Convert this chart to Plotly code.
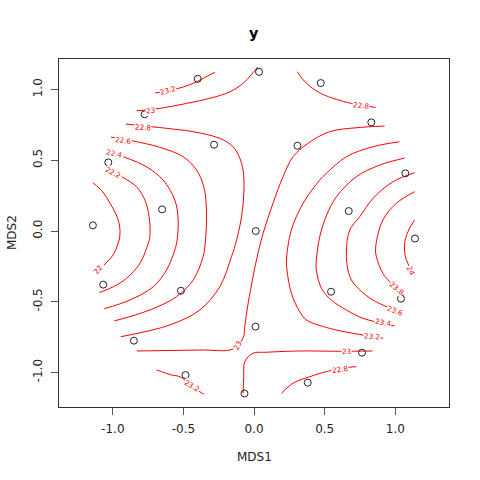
import plotly.graph_objects as go

# ---- site scores (NMDS) ----
site_mds1 = [0.035, -0.399, 0.472, -0.775, 0.830, -0.283, 0.307, -1.032, 1.071, -0.651,
             0.670, -1.141, 0.012, 1.139, -1.068, -0.518, 0.545, 1.040, 0.010, -0.851,
             0.764, -0.485, 0.380, -0.068]
site_mds2 = [1.125, 1.076, 1.046, 0.825, 0.768, 0.610, 0.603, 0.485, 0.408, 0.153,
             0.141, 0.040, 0.000, -0.053, -0.379, -0.422, -0.429, -0.478, -0.676, -0.775,
             -0.860, -1.018, -1.072, -1.149]

# ---- fitted surface contour lines (level: x, y) ----
c22_x = [-1.141, -1.070, -1.021, -0.978, -0.953, -0.950, -0.964, -0.999, -1.063]
c22_y = [0.341, 0.276, 0.198, 0.120, 0.042, -0.035, -0.092, -0.170, -0.240]

c222_x = [-0.938, -0.832, -0.773, -0.743, -0.738, -0.757, -0.808, -0.902, -0.997, -1.096]
c222_y = [0.384, 0.313, 0.219, 0.101, -0.040, -0.111, -0.228, -0.334, -0.394, -0.436]

c224_x = [-0.926, -0.761, -0.644, -0.561, -0.537, -0.545, -0.561, -0.620, -0.714, -0.879, -1.061]
c224_y = [0.525, 0.454, 0.360, 0.219, 0.078, -0.064, -0.134, -0.276, -0.394, -0.488, -0.549]

c226_x = [-1.013, -0.856, -0.667, -0.502, -0.407, -0.356, -0.337, -0.344, -0.361, -0.431, -0.549, -0.738, -0.990]
c226_y = [0.664, 0.636, 0.592, 0.525, 0.431, 0.313, 0.148, -0.064, -0.182, -0.346, -0.464, -0.558, -0.636]

c228_left_x = [-0.907, -0.620, -0.431, -0.243, -0.149, -0.096, -0.073, -0.082, -0.124, -0.160, -0.243, -0.384, -0.596, -0.943]
c228_left_y = [0.756, 0.726, 0.702, 0.655, 0.596, 0.502, 0.384, 0.148, -0.064, -0.182, -0.394, -0.558, -0.664, -0.747]

c228_top_x = [0.304, 0.371, 0.472, 0.583, 0.689, 0.861]
c228_top_y = [1.126, 1.044, 0.973, 0.931, 0.902, 0.874]

c228_bot_x = [0.194, 0.276, 0.394, 0.512, 0.677, 0.724]
c228_bot_y = [-1.147, -1.076, -1.030, -0.994, -0.963, -0.959]

c23_top_x = [-0.832, -0.667, -0.478, -0.313, -0.172, -0.078, -0.023, 0.026]
c23_top_y = [0.850, 0.867, 0.902, 0.938, 0.984, 1.044, 1.102, 1.159]

c23_mid_x = [0.924, 0.724, 0.535, 0.382, 0.276, 0.205, 0.134, 0.064, 0.017, -0.007, -0.042, -0.066, -0.078, -0.149, -0.384, -0.830]
c23_mid_y = [0.742, 0.730, 0.702, 0.620, 0.525, 0.384, 0.196, -0.016, -0.205, -0.323, -0.511, -0.676, -0.756, -0.834, -0.841, -0.848]

c23_bot_x = [-0.078, -0.073, -0.066, -0.007, 0.088, 0.323, 0.606, 0.837]
c23_bot_y = [-1.147, -1.030, -0.924, -0.864, -0.857, -0.848, -0.850, -0.848]

c232_top_x = [-0.700, -0.537, -0.431, -0.361, -0.278]
c232_top_y = [0.976, 1.008, 1.044, 1.079, 1.122]

c232_right_x = [1.030, 0.842, 0.653, 0.512, 0.465, 0.347, 0.264, 0.229, 0.233, 0.264, 0.323, 0.371, 0.535, 0.700, 0.912]
c232_right_y = [0.631, 0.596, 0.525, 0.408, 0.360, 0.196, 0.007, -0.205, -0.276, -0.440, -0.570, -0.629, -0.688, -0.723, -0.758]

c232_bot_x = [-0.690, -0.655, -0.584, -0.525, -0.443, -0.384, -0.356]
c232_bot_y = [-0.982, -0.994, -1.018, -1.030, -1.093, -1.136, -1.152]

c234_x = [1.066, 0.889, 0.724, 0.583, 0.514, 0.465, 0.441, 0.441, 0.477, 0.547, 0.653, 0.771, 0.995]
c234_y = [0.516, 0.466, 0.384, 0.242, 0.113, -0.040, -0.205, -0.276, -0.405, -0.488, -0.558, -0.617, -0.671]

c236_x = [1.136, 0.983, 0.842, 0.748, 0.677, 0.653, 0.665, 0.689, 0.748, 0.842, 0.912, 1.045]
c236_y = [0.412, 0.348, 0.231, 0.101, 0.007, -0.158, -0.276, -0.346, -0.417, -0.488, -0.523, -0.580]

c238_x = [1.136, 1.007, 0.912, 0.861, 0.866, 0.912, 0.960, 1.059]
c238_y = [0.278, 0.196, 0.078, -0.111, -0.182, -0.299, -0.358, -0.452]

c24_x = [1.136, 1.089, 1.066, 1.071, 1.089, 1.122]
c24_y = [0.078, -0.005, -0.087, -0.182, -0.228, -0.311]

# ---- contour labels ----
label_text = ["22", "22.2", "22.4", "22.6", "22.8", "23", "23.2", "22.8", "23", "23",
              "23.2", "23.4", "23.6", "23.8", "24", "22.8", "23.2"]
label_x = [-1.105, -0.999, -0.992, -0.929, -0.787, -0.731, -0.610, 0.760, -0.117, 0.657,
           0.837, 0.912, 0.995, 1.013, 1.108, 0.606, -0.443]
label_y = [-0.269, 0.413, 0.548, 0.643, 0.735, 0.855, 0.991, 0.886, -0.809, -0.853,
           -0.747, -0.645, -0.562, -0.403, -0.281, -0.977, -1.093]
label_angle = [-50, 28, 12, 8, 3, -5, -15, 5, -60, 0, 5, 10, 20, 40, 65, -8, 30]

contours = [
    (c22_x, c22_y), (c222_x, c222_y), (c224_x, c224_y), (c226_x, c226_y),
    (c228_left_x, c228_left_y), (c228_top_x, c228_top_y), (c228_bot_x, c228_bot_y),
    (c23_top_x, c23_top_y), (c23_mid_x, c23_mid_y), (c23_bot_x, c23_bot_y),
    (c232_top_x, c232_top_y), (c232_right_x, c232_right_y), (c232_bot_x, c232_bot_y),
    (c234_x, c234_y), (c236_x, c236_y), (c238_x, c238_y), (c24_x, c24_y),
]

fig = go.Figure()
for cx, cy in contours:
    fig.add_trace(go.Scatter(x=cx, y=cy, mode="lines", line=dict(color="#ff0000", width=1),
                             line_shape="spline", hoverinfo="skip", showlegend=False))

fig.add_trace(go.Scatter(x=site_mds1, y=site_mds2, mode="markers",
                         marker=dict(symbol="circle-open", size=7, color="#222222",
                                     line=dict(width=1, color="#222222")),
                         showlegend=False))

FONT = "DejaVu Sans"
for t, lx, ly, ang in zip(label_text, label_x, label_y, label_angle):
    fig.add_annotation(x=lx, y=ly, text=t, showarrow=False, textangle=ang,
                       font=dict(family=FONT, size=7.2, color="#ff0000"),
                       bgcolor="white", borderpad=0)

axis_common = dict(showgrid=False, zeroline=False, showline=True, mirror=True,
                   linecolor="#333333", linewidth=1, ticks="outside", ticklen=7,
                   tickcolor="#555555", tickwidth=1, automargin=False,
                   tickfont=dict(family=FONT, size=12, color="#222222"))

tick_vals = [-1.0, -0.5, 0.0, 0.5, 1.0]
tick_text = ["-1.0", "-0.5", "0.0", "0.5", "1.0"]

fig.update_xaxes(range=[-1.381, 1.380], tickvals=tick_vals, ticktext=tick_text,
                 ticklabelstandoff=4, **axis_common)
fig.update_yaxes(range=[-1.244, 1.216], tickvals=tick_vals, ticktext=tick_text,
                 tickangle=-90, ticklabelstandoff=4, **axis_common)

fig.add_annotation(xref="paper", yref="paper", x=0.5, y=1, yshift=26, text="<b>y</b>",
                   xanchor="center", yanchor="middle", showarrow=False,
                   font=dict(family=FONT, size=14.4, color="black"))
fig.add_annotation(xref="paper", yref="paper", x=0.5, y=0, yshift=-50, text="MDS1",
                   xanchor="center", yanchor="middle", showarrow=False,
                   font=dict(family=FONT, size=12, color="#222222"))
fig.add_annotation(xref="paper", yref="paper", x=0, y=0.5, xshift=-47, text="MDS2",
                   xanchor="center", yanchor="middle", textangle=-90, showarrow=False,
                   font=dict(family=FONT, size=12, color="#222222"))

fig.update_layout(width=480, height=480, margin=dict(l=59, r=31, t=59, b=73),
                  plot_bgcolor="white", paper_bgcolor="white")

fig.write_html("out.html", config={"displayModeBar": False},
               post_script="document.body.style.margin='0';")
